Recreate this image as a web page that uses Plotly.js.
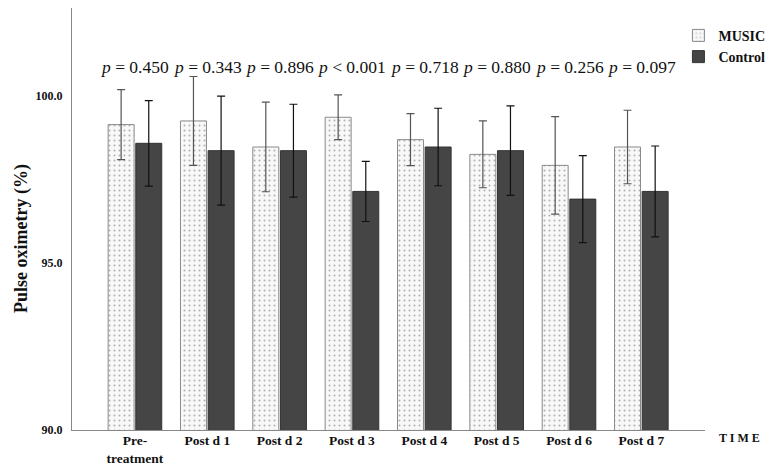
<!DOCTYPE html>
<html>
<head>
<meta charset="utf-8">
<script src="https://cdn.plot.ly/plotly-3.0.1.min.js"></script>
<style>html,body{margin:0;padding:0;background:#fff;}#chart{width:774px;height:466px;}</style>
</head>
<body>
<div id="chart"></div>
<script>
const categories = ["Pre-<br>treatment", "Post d 1", "Post d 2", "Post d 3", "Post d 4", "Post d 5", "Post d 6", "Post d 7"];
const musicMean = [99.14, 99.25, 98.47, 99.36, 98.69, 98.25, 97.92, 98.47];
const musicErr  = [1.05, 1.33, 1.34, 0.67, 0.78, 1.00, 1.46, 1.10];
const controlMean = [98.58, 98.36, 98.36, 97.14, 98.47, 98.36, 96.91, 97.14];
const controlErr  = [1.28, 1.63, 1.39, 0.90, 1.16, 1.34, 1.30, 1.36];
const pLabels = ["= 0.450", "= 0.343", "= 0.896", "< 0.001", "= 0.718", "= 0.880", "= 0.256", "= 0.097"];
const pY = 100.87;

const serif = "Liberation Serif";

const traces = [
  {
    type: "bar", name: "<b>MUSIC</b>", x: categories, y: musicMean,
    marker: {color: "#f8f8f8", line: {color: "#8a8a8a", width: 1},
             pattern: {shape: ".", fgcolor: "#b0b0b0", bgcolor: "#f8f8f8", size: 5, solidity: 0.12}},
    error_y: {type: "data", array: musicErr, visible: true, color: "#555", thickness: 1.2, width: 4}
  },
  {
    type: "bar", name: "<b>Control</b>", x: categories, y: controlMean,
    marker: {color: "#454545", line: {color: "#333", width: 1}},
    error_y: {type: "data", array: controlErr, visible: true, color: "#111", thickness: 1.2, width: 4}
  }
];

const annotations = categories.map((c, i) => ({
  x: c, y: pY, xref: "x", yref: "y", text: "<i>p</i> " + pLabels[i], showarrow: false,
  font: {family: serif, size: 17.5, color: "#111"}
}));
annotations.push({
  x: -0.079, y: 0.455, xref: "paper", yref: "paper", xanchor: "center", yanchor: "middle",
  text: "<b>Pulse oximetry (%)</b>", textangle: -90,
  showarrow: false, font: {family: serif, size: 18, color: "#111"}
});
annotations.push({
  x: 1.055, y: -0.02, xref: "paper", yref: "paper", xanchor: "center", yanchor: "middle", text: "<b>T I M E</b>",
  showarrow: false, font: {family: serif, size: 12, color: "#111"}
});

const layout = {
  width: 774, height: 466,
  margin: {l: 72, r: 69, t: 8, b: 36, autoexpand: false},
  paper_bgcolor: "#fff", plot_bgcolor: "#fff",
  barmode: "group", bargap: 0.236, bargroupgap: 0.06,
  showlegend: true,
  legend: {x: 0.958, y: 0.972, xanchor: "left", yanchor: "top", bgcolor: "rgba(0,0,0,0)",
           font: {family: serif, size: 14, color: "#111"}, itemwidth: 30, tracegroupgap: 0},
  xaxis: {type: "category", range: [-0.87, 7.88], showline: true, linecolor: "#888", linewidth: 1,
          ticks: "", showgrid: false, zeroline: false, ticklabelstandoff: -2,
          tickfont: {family: serif, size: 13.5, color: "#111", weight: "bold"}},
  yaxis: {range: [90, 102.63], tickvals: [90, 95, 100], ticktext: ["90.0", "95.0", "100.0"],
          showline: true, linecolor: "#888", linewidth: 1, ticks: "", showgrid: false, zeroline: false,
          ticklabelstandoff: 6,
          tickfont: {family: serif, size: 12, color: "#111", weight: "bold"}},
  annotations: annotations,
  font: {family: serif}
};

Plotly.newPlot("chart", traces, layout, {displayModeBar: false, staticPlot: true});
</script>
</body>
</html>
